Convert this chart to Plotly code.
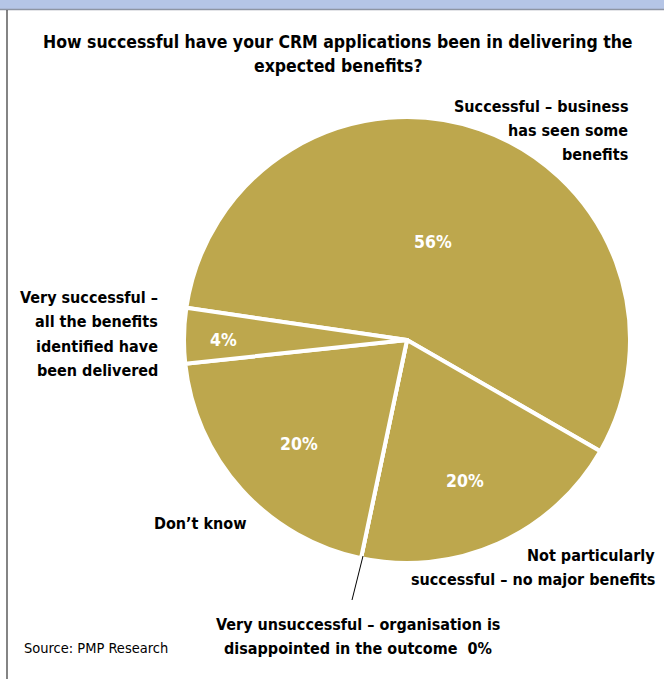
import plotly.graph_objects as go

# Data (clockwise from the left edge of the "Successful" slice)
categories = [
    "Successful – business has seen some benefits",
    "Not particularly successful – no major benefits",
    "Very unsuccessful – organisation is disappointed in the outcome",
    "Don't know",
    "Very successful – all the benefits identified have been delivered",
]
values = [56, 20, 0, 20, 4]
label_lines = [
    ["Successful – business", "has seen some", "benefits"],
    ["Not particularly", "successful – no major benefits"],
    ["Very unsuccessful – organisation is", "disappointed in the outcome  %d%%" % values[2]],
    ["Don’t know"],
    ["Very successful –", "all the benefits", "identified have", "been delivered"],
]
title_lines = ["How successful have your CRM applications been in delivering the", "expected benefits?"]
source_text = "Source: PMP Research"

W, H = 664, 679
GOLD = "#BDA74D"
FONT = "DejaVu Sans Condensed, sans-serif"

cx, cy, R = 407, 340, 223  # pie placement in pixels

def px(x):
    return x / W

def py(y):
    return 1 - y / H

fig = go.Figure(go.Pie(
    labels=categories,
    values=values,
    sort=False,
    direction="clockwise",
    rotation=-81.7,
    marker=dict(colors=[GOLD] * len(values), line=dict(color="white", width=4)),
    textinfo="none",
    hoverinfo="label+value",
    showlegend=False,
    domain=dict(x=[px(cx - R), px(cx + R)], y=[py(cy + R), py(cy - R)]),
))

annotations = []

def add_lines(lines, x, y0, step, anchor, size, bold=True, color="black"):
    for i, ln in enumerate(lines):
        t = f"<b>{ln}</b>" if bold else ln
        annotations.append(dict(
            x=px(x), y=py(y0 + i * step), xref="paper", yref="paper", showarrow=False,
            text=t, font=dict(family=FONT, size=size, color=color),
            xanchor=anchor, yanchor="middle",
        ))

# Title
add_lines(title_lines, 338, 42, 24, "center", 17.5)

# Percent labels inside slices
pct_pos = [(433, 242), (465, 481), None, (299, 444), (223, 340)]
for v, pos in zip(values, pct_pos):
    if pos is None:
        continue
    add_lines([f"{v}%"], pos[0], pos[1], 0, "center", 17.5, color="white")

# Outside category labels
label_pos = [
    (630, 106, "right"),
    (657, 555, "right"),
    (358, 624, "center"),
    (200, 523, "center"),
    (160, 297, "right"),
]
for lines, (x, y, anc) in zip(label_lines, label_pos):
    add_lines(lines, x, y, 24.5, anc, 16)

add_lines([source_text], 22, 648, 0, "left", 14.5, bold=False)

shapes = [
    # top band
    dict(type="rect", xref="paper", yref="paper", x0=0, x1=1, y0=py(9), y1=1,
         fillcolor="#B5C5E6", line=dict(width=0), layer="below"),
    dict(type="line", xref="paper", yref="paper", x0=0, x1=1, y0=py(9.5), y1=py(9.5),
         line=dict(color="#8E95A3", width=1.5)),
    # left frame line
    dict(type="line", xref="paper", yref="paper", x0=px(7), x1=px(7), y0=0, y1=py(10),
         line=dict(color="#333333", width=1.2)),
    # leader line for the 0% slice
    dict(type="line", xref="paper", yref="paper", x0=px(363), x1=px(352), y0=py(556), y1=py(600),
         line=dict(color="black", width=1)),
]

fig.update_layout(
    width=W, height=H,
    margin=dict(l=0, r=0, t=0, b=0),
    paper_bgcolor="white", plot_bgcolor="white",
    annotations=annotations, shapes=shapes,
)

fig.write_html("out.html")
